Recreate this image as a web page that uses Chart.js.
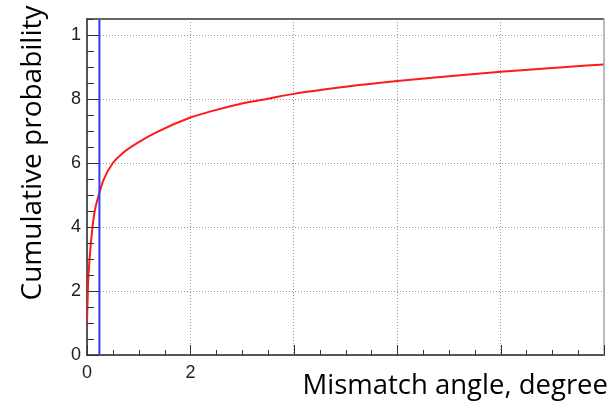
<!DOCTYPE html>
<html>
<head>
<meta charset="utf-8">
<script src="https://cdn.jsdelivr.net/npm/chart.js@4.4.1/dist/chart.umd.min.js"></script>
<style>
  html, body { margin: 0; padding: 0; background: #fff; }
  #chart { display: block; }
</style>
</head>
<body>
<canvas id="chart" width="615" height="405"></canvas>
<script>
// 累积概率曲线
const angles = [0, 0.02, 0.05, 0.1, 0.15, 0.22, 0.32, 0.5, 0.7, 1.0, 1.33, 2.0, 2.5, 3.0, 3.5, 4.0, 5.0, 6.0, 7.0, 8.0, 9.0, 10.0];
const cumProb = [0.10, 0.22, 0.30, 0.39, 0.45, 0.495, 0.547, 0.60, 0.632, 0.665, 0.695, 0.742, 0.766, 0.786, 0.801, 0.816, 0.838, 0.856, 0.871, 0.885, 0.897, 0.908];

// 蓝色竖线（阈值角度）
const cutAngle = [0.24, 0.24];
const cutProb = [0, 1.05];

const xLabels = { 0: '0', 2: '2' };
const yLabels = { 0: '0', 20: '2', 40: '4', 60: '6', 80: '8', 100: '1' };

const xTitle = 'Mismatch angle, degree';
const yTitle = 'Cumulative probability';

const toPoints = (xs, ys) => xs.map((x, i) => ({ x, y: ys[i] }));

/**
 * 边框、内侧刻度和坐标轴标题
 */
const framePlugin = {
  id: 'frame',
  afterDraw(chart) {
    const { ctx, chartArea: a, scales } = chart;
    ctx.save();
    // 上边与右边
    ctx.strokeStyle = '#666';
    ctx.lineWidth = 2;
    ctx.beginPath();
    ctx.moveTo(a.left, a.top);
    ctx.lineTo(a.right, a.top);
    ctx.stroke();
    ctx.strokeStyle = '#aaa';
    ctx.lineWidth = 1.5;
    ctx.beginPath();
    ctx.moveTo(a.right, a.top);
    ctx.lineTo(a.right, a.bottom);
    ctx.stroke();

    // 刻度线（向内）
    ctx.strokeStyle = '#333';
    ctx.lineWidth = 1;
    scales.y.ticks.forEach(t => {
      const r = Math.round(t.value * 100);
      const py = Math.round(scales.y.getPixelForValue(t.value)) + 0.5;
      const len = r % 20 === 0 ? 12 : 7;
      ctx.beginPath();
      ctx.moveTo(a.left, py);
      ctx.lineTo(a.left + len, py);
      ctx.stroke();
    });
    scales.x.ticks.forEach(t => {
      const r = Math.round(t.value * 10);
      const px = Math.round(scales.x.getPixelForValue(t.value)) + 0.5;
      const len = r % 20 === 0 ? 10 : 5;
      ctx.beginPath();
      ctx.moveTo(px, a.bottom);
      ctx.lineTo(px, a.bottom - len);
      ctx.stroke();
    });

    // 坐标轴标题
    ctx.fillStyle = '#000';
    ctx.font = '27.5px "Open Sans"';
    ctx.textAlign = 'right';
    ctx.textBaseline = 'alphabetic';
    ctx.fillText(xTitle, 608, 394);

    ctx.font = '28px "Open Sans"';
    ctx.translate(41, 153);
    ctx.rotate(-Math.PI / 2);
    ctx.textAlign = 'center';
    ctx.textBaseline = 'alphabetic';
    ctx.fillText(yTitle, 0, 0);
    ctx.restore();
  },
};

const isMajorX = (v) => Math.round(v * 10) % 20 === 0 && v > 0;
const isMajorY = (v) => Math.round(v * 100) % 20 === 0 && v > 0;

const ctx = document.getElementById('chart').getContext('2d');
new Chart(ctx, {
  type: 'scatter',
  data: {
    datasets: [
      {
        data: toPoints(angles, cumProb),
        showLine: true,
        borderColor: '#ff1a1a',
        borderWidth: 2,
        pointRadius: 0,
        cubicInterpolationMode: 'monotone',
        order: 2,
      },
      {
        data: toPoints(cutAngle, cutProb),
        showLine: true,
        borderColor: '#2f3cf5',
        borderWidth: 2,
        pointRadius: 0,
        order: 1,
      },
    ],
  },
  options: {
    responsive: false,
    animation: false,
    layout: { padding: { top: 19, right: 11, left: 0, bottom: 0 } },
    plugins: {
      legend: { display: false },
      tooltip: { enabled: false },
    },
    scales: {
      x: {
        type: 'linear',
        min: 0,
        max: 10,
        afterFit: (s) => { s.height = 50; },
        border: { color: '#555', width: 2, dash: [1, 2] },
        grid: {
          color: (c) => (c.tick && isMajorX(c.tick.value)) ? '#999' : 'transparent',
          lineWidth: 1,
          drawTicks: false,
        },
        ticks: {
          stepSize: 0.5,
          autoSkip: false,
          maxRotation: 0,
          padding: 7,
          color: '#222',
          font: { family: '"Liberation Sans"', size: 18 },
          callback: (v) => xLabels[Math.round(v * 10) / 10] ?? '',
        },
      },
      y: {
        type: 'linear',
        min: 0,
        max: 1.05,
        afterFit: (s) => { s.width = 87; },
        border: { color: '#555', width: 2, dash: [1, 2] },
        grid: {
          color: (c) => (c.tick && isMajorY(c.tick.value)) ? '#999' : 'transparent',
          lineWidth: 1,
          drawTicks: false,
        },
        ticks: {
          stepSize: 0.05,
          autoSkip: false,
          padding: 6,
          color: '#222',
          font: { family: '"Liberation Sans"', size: 18 },
          callback: (v) => yLabels[Math.round(v * 100)] ?? '',
        },
      },
    },
  },
  plugins: [framePlugin],
});
</script>
</body>
</html>
